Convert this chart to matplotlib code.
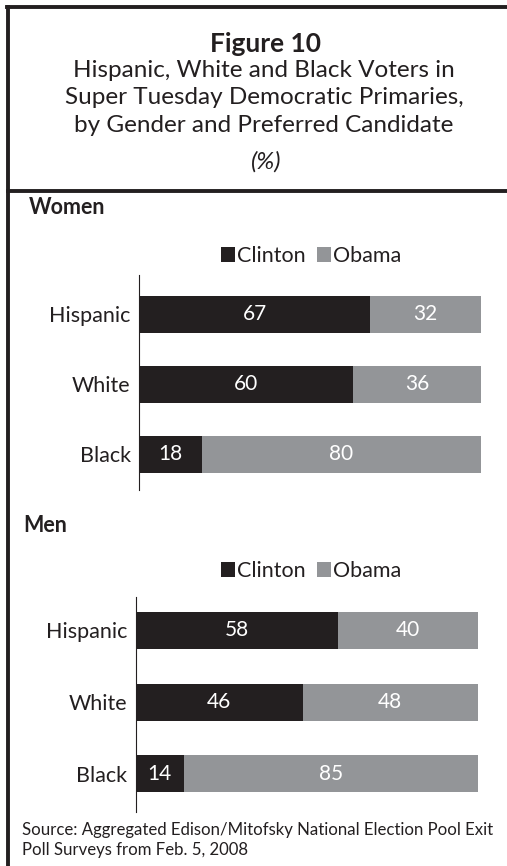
import matplotlib.pyplot as plt
from matplotlib.lines import Line2D
import numpy as np

plt.rcParams['font.family'] = ['Lato', 'DejaVu Sans']

# data
groups = ["Hispanic", "White", "Black"]
women_clinton = [67, 60, 18]
women_obama = [32, 36, 80]
men_clinton = [58, 46, 14]
men_obama = [40, 48, 85]

DARK = '#231f20'
GREY = '#939598'

W, H = 507, 866
fig = plt.figure(figsize=(W / 100, H / 100), dpi=100)


def fx(px):
    return px / W


def fy(py):
    return 1 - py / H


def panel(left, top, bottom, first, spacing, clinton, obama):
    # bars are drawn as 100% stacked, labels keep the raw numbers
    clinton = np.array(clinton, dtype=float)
    obama = np.array(obama, dtype=float)
    total = clinton + obama
    c_share = clinton / total * 100
    o_share = obama / total * 100

    ax = fig.add_axes([fx(left), fy(bottom), 342 / W, (bottom - top) / H])
    y = np.arange(len(groups))
    hb = ax.barh(y, c_share, height=37 / spacing, color=DARK, label='Clinton')
    ax.bar_label(hb, labels=[str(int(v)) for v in clinton], label_type='center',
                 color='white', fontsize=15)
    hb = ax.barh(y, o_share, left=c_share, height=37 / spacing, color=GREY, label='Obama')
    ax.bar_label(hb, labels=[str(int(v)) for v in obama], label_type='center',
                 color='white', fontsize=15)
    ax.set_xlim(0, 100)
    ax.set_ylim(2 + (bottom - (first + 2 * spacing)) / spacing, -(first - top) / spacing)
    ax.set_yticks(y)
    ax.set_yticklabels(groups, fontsize=15.5, color=DARK)
    ax.tick_params(axis='y', length=0, pad=6)
    ax.set_xticks([])
    for s in ['top', 'right', 'bottom']:
        ax.spines[s].set_visible(False)
    ax.spines['left'].set_color(DARK)
    ax.spines['left'].set_linewidth(0.8)
    return ax


ax1 = panel(139, 275, 490, 314.5, 70, women_clinton, women_obama)
ax2 = panel(135.5, 597, 812, 630.5, 71.5, men_clinton, men_obama)

for ax, ly in [(ax1, 256), (ax2, 571)]:
    ax.legend(loc='center', bbox_to_anchor=(fx(311), fy(ly)), bbox_transform=fig.transFigure,
              ncol=2, frameon=False, fontsize=15.5, handlelength=0.65, handleheight=0.65,
              handletextpad=0.1, columnspacing=0.5, borderpad=0, labelcolor=DARK)

# frame lines
fig.add_artist(Line2D([fx(8), fx(8)], [fy(7), 0], color=DARK, lw=2.8, transform=fig.transFigure))
fig.add_artist(Line2D([fx(6.6), 1], [fy(7), fy(7)], color=DARK, lw=2.8, transform=fig.transFigure))
fig.add_artist(Line2D([fx(8), 1], [fy(191), fy(191)], color=DARK, lw=2.8, transform=fig.transFigure))

# title
fig.text(fx(266), fy(44), "Figure 10", ha='center', va='center', fontsize=19,
         fontweight='bold', color=DARK)
fig.text(fx(264), fy(98), "Hispanic, White and Black Voters in\nSuper Tuesday Democratic Primaries,\n"
         "by Gender and Preferred Candidate", ha='center', va='center', fontsize=17.5,
         color=DARK, linespacing=1.38)
fig.text(fx(266), fy(162), "(%)", ha='center', va='center', fontsize=17.5, style='italic', color=DARK)

fig.text(fx(29), fy(207), "Women", ha='left', va='center', fontsize=15.5, fontweight='bold', color=DARK)
fig.text(fx(23), fy(525), "Men", ha='left', va='center', fontsize=15.5, fontweight='bold', color=DARK)

fig.text(fx(22), fy(840), "Source: Aggregated Edison/Mitofsky National Election Pool Exit\n"
         "Poll Surveys from Feb. 5, 2008", ha='left', va='center', fontsize=12.1,
         color=DARK, linespacing=1.3)

fig.savefig('out.png', dpi=100)
